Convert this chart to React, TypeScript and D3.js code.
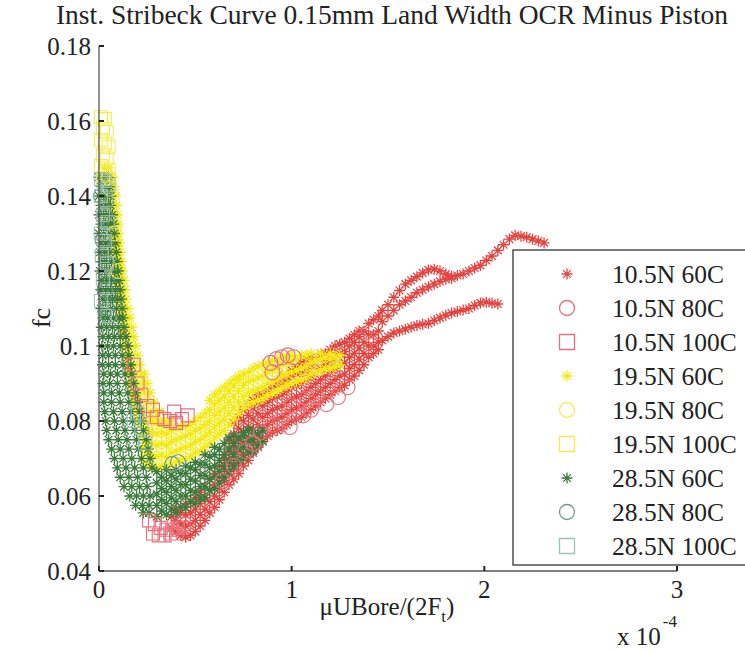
import React from "react";
import * as d3 from "d3";

// ---------- text ----------
const TITLE = "Inst. Stribeck Curve 0.15mm Land Width OCR Minus Piston";
const X_TICKS = [0, 1, 2, 3];
const Y_TICKS = [0.04, 0.06, 0.08, 0.1, 0.12, 0.14, 0.16, 0.18];
const Y_TICK_LABELS = ["0.04", "0.06", "0.08", "0.1", "0.12", "0.14", "0.16", "0.18"];
const SERIES_NAMES = [
  "10.5N 60C", "10.5N 80C", "10.5N 100C",
  "19.5N 60C", "19.5N 80C", "19.5N 100C",
  "28.5N 60C", "28.5N 80C", "28.5N 100C",
];

// ---------- data (x in units of 1e-4, y = fc) ----------
// rows: [fc, [x...]] ; cols: [x, [fc...]]
const G60_ROWS: [number, number[]][] = [
  [0.145, [0.0, 0.025, 0.05]],
  [0.1425, [0.01, 0.035, 0.055]],
  [0.14, [0.0, 0.025, 0.05, 0.06]],
  [0.1375, [0.01, 0.035, 0.06]],
  [0.135, [0.0, 0.025, 0.05, 0.07]],
  [0.1325, [0.01, 0.035, 0.06, 0.075]],
  [0.13, [0.0, 0.025, 0.05, 0.08]],
  [0.1275, [0.01, 0.035, 0.06, 0.085]],
  [0.125, [0.005, 0.03, 0.055, 0.09]],
  [0.1225, [0.015, 0.04, 0.065, 0.095]],
  [0.12, [0.005, 0.03, 0.055, 0.08, 0.1]],
  [0.1175, [0.015, 0.04, 0.065, 0.09, 0.105]],
  [0.115, [0.01, 0.035, 0.06, 0.085, 0.11]],
  [0.1125, [0.02, 0.045, 0.07, 0.095, 0.115]],
  [0.11, [0.01, 0.035, 0.06, 0.09, 0.12]],
  [0.1075, [0.02, 0.045, 0.075, 0.105, 0.125]],
  [0.105, [0.012, 0.04, 0.07, 0.1, 0.13]],
  [0.1025, [0.02, 0.05, 0.08, 0.11, 0.14]],
  [0.1, [0.015, 0.045, 0.075, 0.11, 0.15]],
  [0.0975, [0.02, 0.05, 0.085, 0.12, 0.155]],
  [0.095, [0.018, 0.05, 0.085, 0.125, 0.165]],
  [0.0925, [0.025, 0.06, 0.095, 0.135, 0.17]],
  [0.09, [0.02, 0.055, 0.095, 0.14, 0.18]],
  [0.0875, [0.025, 0.065, 0.105, 0.15, 0.19]],
  [0.085, [0.025, 0.065, 0.11, 0.155, 0.2]],
  [0.0825, [0.03, 0.075, 0.12, 0.165, 0.21]],
  [0.08, [0.035, 0.08, 0.125, 0.175, 0.22]],
  [0.0775, [0.04, 0.09, 0.135, 0.185, 0.23]],
  [0.075, [0.05, 0.1, 0.145, 0.195, 0.245]],
  [0.0725, [0.065, 0.11, 0.155, 0.205, 0.255]],
  [0.07, [0.08, 0.125, 0.17, 0.22, 0.265]],
  [0.0675, [0.095, 0.14, 0.185, 0.23, 0.275]],
  [0.065, [0.11, 0.155, 0.2, 0.245]],
  [0.0625, [0.13, 0.17, 0.21, 0.25]],
  [0.06, [0.16, 0.195, 0.23, 0.265]],
  [0.0575, [0.19, 0.225, 0.26]],
  [0.0555, [0.23, 0.26]],
];
const G60_COLS: [number, number[]][] = [
  [0.3, [0.0545, 0.0575, 0.0605, 0.0635, 0.0665]],
  [0.325, [0.056, 0.059, 0.062, 0.065]],
  [0.35, [0.055, 0.058, 0.061, 0.064, 0.067]],
  [0.375, [0.0565, 0.0595, 0.0625, 0.0655]],
  [0.4, [0.0555, 0.0585, 0.0615, 0.0645, 0.067]],
  [0.425, [0.057, 0.06, 0.063, 0.066]],
  [0.45, [0.057, 0.06, 0.063, 0.066, 0.068]],
  [0.475, [0.0585, 0.0615, 0.0645, 0.0675]],
  [0.5, [0.058, 0.061, 0.064, 0.067, 0.069]],
  [0.525, [0.0595, 0.0625, 0.0655, 0.0685]],
  [0.55, [0.0595, 0.0625, 0.0655, 0.0685, 0.071]],
  [0.575, [0.0615, 0.0645, 0.0675, 0.0705]],
  [0.6, [0.062, 0.065, 0.068, 0.071, 0.073]],
  [0.625, [0.0635, 0.0665, 0.0695, 0.0725]],
  [0.65, [0.065, 0.068, 0.071, 0.074]],
  [0.675, [0.0665, 0.0695, 0.0725, 0.0755]],
  [0.7, [0.068, 0.071, 0.074, 0.076]],
  [0.725, [0.0695, 0.0725, 0.0755]],
  [0.75, [0.07, 0.073, 0.076, 0.077]],
  [0.775, [0.0715, 0.0745, 0.0775]],
  [0.8, [0.072, 0.075, 0.0775]],
  [0.825, [0.0735, 0.0765]],
  [0.85, [0.0745, 0.0775]],
];

const Y60_ROWS: [number, number[]][] = [
  [0.1475, [0.03, 0.05]],
  [0.145, [0.04, 0.06, 0.07]],
  [0.1425, [0.045, 0.065, 0.075]],
  [0.14, [0.05, 0.07, 0.085]],
  [0.1375, [0.055, 0.075, 0.09]],
  [0.135, [0.06, 0.08, 0.095]],
  [0.1325, [0.065, 0.085, 0.1]],
  [0.13, [0.07, 0.09, 0.1]],
  [0.1275, [0.075, 0.095, 0.105]],
  [0.125, [0.08, 0.1, 0.11]],
  [0.1225, [0.085, 0.105, 0.115]],
  [0.12, [0.09, 0.11, 0.12]],
  [0.1175, [0.095, 0.115, 0.13]],
  [0.115, [0.1, 0.12, 0.135]],
  [0.1125, [0.105, 0.125, 0.14]],
  [0.11, [0.11, 0.13, 0.15]],
  [0.1075, [0.115, 0.14, 0.16]],
  [0.105, [0.12, 0.145, 0.17]],
  [0.1025, [0.125, 0.155, 0.18]],
  [0.1, [0.13, 0.16, 0.19]],
  [0.0975, [0.14, 0.17, 0.2]],
  [0.095, [0.145, 0.18, 0.21]],
  [0.0925, [0.155, 0.19, 0.22, 0.235]],
  [0.09, [0.16, 0.195, 0.225, 0.25]],
  [0.0875, [0.17, 0.205, 0.235, 0.265]],
  [0.085, [0.18, 0.215, 0.25, 0.285]],
  [0.0825, [0.19, 0.225, 0.26, 0.295, 0.315]],
  [0.08, [0.2, 0.235, 0.27, 0.305, 0.34, 0.37]],
];
const Y60_COLS: [number, number[]][] = [
  [0.225, [0.07, 0.073, 0.076, 0.079]],
  [0.25, [0.0685, 0.0715, 0.0745, 0.0775]],
  [0.275, [0.068, 0.071, 0.074, 0.077, 0.08]],
  [0.3, [0.0675, 0.0705, 0.0735, 0.0765, 0.0795]],
  [0.325, [0.068, 0.071, 0.074, 0.077, 0.079]],
  [0.35, [0.068, 0.0705, 0.0735, 0.0765, 0.079]],
  [0.375, [0.0685, 0.0715, 0.0745, 0.0775]],
  [0.4, [0.069, 0.072, 0.075, 0.078]],
  [0.425, [0.0695, 0.0725, 0.0755, 0.0785]],
  [0.45, [0.07, 0.073, 0.076, 0.0785]],
  [0.475, [0.0705, 0.0735, 0.0765, 0.079]],
  [0.5, [0.0715, 0.0745, 0.0775, 0.08]],
  [0.525, [0.072, 0.075, 0.078, 0.081]],
  [0.55, [0.073, 0.076, 0.079, 0.082]],
  [0.575, [0.074, 0.077, 0.08, 0.083, 0.0855]],
  [0.6, [0.0755, 0.0785, 0.0815, 0.0845, 0.087]],
  [0.625, [0.0765, 0.0795, 0.0825, 0.0855, 0.088]],
  [0.65, [0.0775, 0.0805, 0.0835, 0.0865, 0.089]],
  [0.675, [0.079, 0.082, 0.085, 0.088, 0.09]],
  [0.7, [0.0805, 0.0835, 0.0865, 0.0895, 0.091]],
  [0.725, [0.082, 0.085, 0.088, 0.091, 0.092]],
  [0.75, [0.0835, 0.0865, 0.0895, 0.0925]],
  [0.775, [0.0845, 0.0875, 0.0905, 0.093]],
  [0.8, [0.085, 0.088, 0.091, 0.094]],
  [0.825, [0.0855, 0.0885, 0.0915, 0.0945]],
  [0.85, [0.086, 0.089, 0.092, 0.095]],
  [0.875, [0.087, 0.09, 0.093, 0.0955]],
  [0.9, [0.0875, 0.0905, 0.0935, 0.096]],
  [0.925, [0.088, 0.091, 0.094, 0.0965]],
  [0.95, [0.089, 0.092, 0.095, 0.097]],
  [0.975, [0.0895, 0.0925, 0.0955, 0.097]],
  [1.0, [0.09, 0.093, 0.096, 0.0975]],
  [1.025, [0.0905, 0.0935, 0.0965]],
  [1.05, [0.091, 0.094, 0.0975]],
  [1.075, [0.0915, 0.0945, 0.0975]],
  [1.1, [0.0925, 0.0955, 0.098]],
  [1.125, [0.093, 0.096]],
  [1.15, [0.0935, 0.0965, 0.098]],
  [1.175, [0.094, 0.097]],
  [1.2, [0.094, 0.0965, 0.098]],
  [1.225, [0.0945, 0.097]],
  [1.25, [0.095, 0.0975]],
];

const R60_DESCENT: [number, number][] = [
  [0.08, 0.125], [0.09, 0.12], [0.1, 0.115], [0.12, 0.108], [0.13, 0.104],
  [0.14, 0.1], [0.15, 0.097], [0.16, 0.094], [0.17, 0.09], [0.19, 0.086],
  [0.21, 0.083], [0.23, 0.08], [0.26, 0.077],
];
const R60_COLS: [number, number[]][] = [
  [0.375, [0.0515, 0.0545]],
  [0.4, [0.0505, 0.0535, 0.0565]],
  [0.425, [0.0495, 0.0525, 0.0555]],
  [0.45, [0.049, 0.052, 0.055, 0.058]],
  [0.475, [0.0495, 0.0525, 0.0555, 0.0585]],
  [0.5, [0.0505, 0.0535, 0.0565, 0.0595]],
  [0.525, [0.052, 0.055, 0.058, 0.061]],
  [0.55, [0.0535, 0.0565, 0.0595, 0.0625]],
  [0.575, [0.0555, 0.0585, 0.0615, 0.0645]],
  [0.6, [0.057, 0.06, 0.063, 0.066]],
  [0.625, [0.059, 0.062, 0.065, 0.068]],
  [0.65, [0.061, 0.064, 0.067, 0.07]],
  [0.675, [0.063, 0.066, 0.069, 0.072, 0.075]],
  [0.7, [0.0645, 0.0675, 0.0705, 0.0735, 0.0765, 0.0795]],
  [0.725, [0.066, 0.069, 0.072, 0.075, 0.078, 0.081]],
  [0.75, [0.068, 0.071, 0.074, 0.077, 0.08, 0.083]],
  [0.775, [0.0695, 0.0725, 0.0755, 0.0785, 0.0815, 0.0845]],
  [0.8, [0.0715, 0.0745, 0.0775, 0.0805, 0.0835, 0.0855]],
  [0.825, [0.073, 0.076, 0.079, 0.082, 0.085, 0.087]],
  [0.85, [0.075, 0.078, 0.081, 0.084, 0.087]],
  [0.875, [0.076, 0.079, 0.082, 0.085, 0.088]],
  [0.9, [0.077, 0.08, 0.083, 0.086, 0.089]],
  [0.925, [0.0775, 0.0805, 0.0835, 0.0865, 0.09]],
  [0.95, [0.078, 0.081, 0.084, 0.087, 0.09, 0.092]],
  [0.975, [0.079, 0.082, 0.085, 0.088, 0.091]],
  [1.0, [0.08, 0.083, 0.086, 0.089, 0.092, 0.0935]],
  [1.025, [0.0805, 0.0835, 0.0865, 0.0895, 0.0925, 0.0945]],
  [1.05, [0.081, 0.084, 0.087, 0.09, 0.093, 0.0955]],
  [1.075, [0.082, 0.085, 0.088, 0.091, 0.094, 0.0965]],
  [1.1, [0.083, 0.086, 0.089, 0.092, 0.095, 0.097]],
  [1.125, [0.084, 0.087, 0.09, 0.093, 0.096]],
  [1.15, [0.085, 0.088, 0.091, 0.094, 0.097, 0.098]],
  [1.175, [0.086, 0.089, 0.092, 0.095, 0.098]],
  [1.2, [0.087, 0.09, 0.093, 0.096, 0.099]],
  [1.225, [0.088, 0.091, 0.094, 0.097, 0.1]],
  [1.25, [0.089, 0.092, 0.095, 0.098, 0.1005]],
  [1.275, [0.0895, 0.0925, 0.0955, 0.0985, 0.101]],
  [1.3, [0.091, 0.094, 0.097, 0.1, 0.102]],
  [1.325, [0.092, 0.095, 0.098, 0.101, 0.103]],
  [1.35, [0.0935, 0.0965, 0.0995, 0.1025, 0.104]],
  [1.375, [0.095, 0.098, 0.101, 0.104]],
  [1.4, [0.097, 0.1, 0.103, 0.106]],
  [1.425, [0.098, 0.1, 0.103, 0.107]],
  [1.45, [0.099, 0.101, 0.104, 0.108]],
];
const R60_UPPER: [number, number][] = [
  [1.47, 0.1095], [1.5, 0.111], [1.53, 0.113], [1.56, 0.1148], [1.59, 0.1165],
  [1.62, 0.1175], [1.65, 0.1185], [1.68, 0.1195], [1.71, 0.1203], [1.74, 0.1205],
  [1.77, 0.12], [1.8, 0.1192], [1.83, 0.1186], [1.86, 0.1188], [1.89, 0.1192],
  [1.92, 0.12], [1.95, 0.1208], [1.98, 0.1215], [2.01, 0.1228], [2.04, 0.124],
  [2.07, 0.1255], [2.1, 0.127], [2.13, 0.1285], [2.16, 0.1295], [2.19, 0.1293],
  [2.22, 0.129], [2.25, 0.1285], [2.28, 0.128], [2.31, 0.1275],
];
const R60_MIDDLE: [number, number][] = [
  [1.47, 0.1065], [1.5, 0.108], [1.53, 0.1095], [1.56, 0.111], [1.59, 0.112],
  [1.62, 0.113], [1.65, 0.1142], [1.68, 0.115], [1.71, 0.1158], [1.74, 0.1165],
  [1.77, 0.1172], [1.8, 0.1178], [1.83, 0.118],
];
const R60_LOWER: [number, number][] = [
  [1.47, 0.1015], [1.5, 0.1025], [1.53, 0.1035], [1.56, 0.104], [1.59, 0.1045],
  [1.62, 0.105], [1.65, 0.1055], [1.68, 0.1058], [1.71, 0.106], [1.74, 0.1068],
  [1.77, 0.1075], [1.8, 0.1082], [1.83, 0.1088], [1.86, 0.1092], [1.89, 0.1096],
  [1.92, 0.11], [1.95, 0.1108], [1.98, 0.1115], [2.01, 0.1117], [2.04, 0.1114],
  [2.07, 0.1112],
];

const R80: [number, number][] = [
  [0.89, 0.0955], [0.92, 0.0965], [0.95, 0.097], [0.98, 0.0975], [1.01, 0.097], [0.9, 0.093],
  [0.9, 0.079], [0.94, 0.08], [0.99, 0.0784], [1.03, 0.083], [1.06, 0.0815], [1.1, 0.083],
  [1.13, 0.0864], [1.18, 0.0845], [1.24, 0.0864], [1.29, 0.089], [1.0, 0.084], [1.08, 0.086],
  [0.84, 0.077], [0.8, 0.074], [0.76, 0.072], [0.7, 0.068], [0.64, 0.064],
];
const R100: [number, number][] = [
  [0.26, 0.0535], [0.29, 0.0525], [0.32, 0.0515], [0.35, 0.051], [0.38, 0.051],
  [0.41, 0.0515], [0.44, 0.0525], [0.28, 0.05], [0.31, 0.0495], [0.34, 0.0495],
  [0.37, 0.05], [0.4, 0.05],
  [0.34, 0.0805], [0.37, 0.08], [0.4, 0.0795], [0.43, 0.0805], [0.46, 0.0815], [0.39, 0.0825],
  [0.18, 0.095], [0.2, 0.09], [0.22, 0.087], [0.25, 0.084], [0.28, 0.083], [0.3, 0.081],
];
const Y80: [number, number][] = [
  [0.03, 0.146], [0.05, 0.145], [0.06, 0.142], [0.08, 0.13], [0.1, 0.12],
];
const Y100: [number, number][] = [
  [0.01, 0.161], [0.03, 0.1605], [0.02, 0.158], [0.04, 0.157], [0.01, 0.155],
  [0.03, 0.154], [0.05, 0.153], [0.02, 0.151], [0.04, 0.15], [0.01, 0.148],
  [0.03, 0.147], [0.05, 0.147], [0.02, 0.1445],
];
const G80: [number, number][] = [
  [0.01, 0.14], [0.03, 0.135], [0.02, 0.128], [0.04, 0.122], [0.03, 0.115],
  [0.05, 0.108], [0.38, 0.0685], [0.41, 0.069],
];
const G100: [number, number][] = [
  [0.01, 0.1445], [0.03, 0.144], [0.05, 0.143], [0.01, 0.14], [0.035, 0.139],
  [0.02, 0.135], [0.045, 0.133], [0.01, 0.13], [0.03, 0.128], [0.015, 0.124],
  [0.04, 0.122], [0.02, 0.118], [0.01, 0.112], [0.03, 0.108],
  [0.2, 0.082], [0.22, 0.078], [0.18, 0.08], [0.24, 0.074],
];

// ---------- helpers (reshape only) ----------
const fromRows = (rows: [number, number[]][]): [number, number][] =>
  rows.flatMap(([y, xs]) => xs.map((x) => [x, y] as [number, number]));
const fromCols = (cols: [number, number[]][]): [number, number][] =>
  cols.flatMap(([x, ys]) => ys.map((y) => [x, y] as [number, number]));

const W = 745, H = 652;
const xScale = d3.scaleLinear().domain([0, 3]).range([99, 677]);
const yScale = d3.scaleLinear().domain([0.04, 0.18]).range([571, 46]);

const FONT = "'Liberation Serif', 'Times New Roman', Times, serif";

type Shape = "star" | "circle" | "square";
interface Series { name: string; color: string; shape: Shape; size: number; pts: [number, number][] }

const SERIES: Series[] = [
  { name: SERIES_NAMES[0], color: "#e4433f", shape: "star", size: 5.5,
    pts: [...R60_DESCENT, ...fromCols(R60_COLS), ...R60_UPPER, ...R60_MIDDLE, ...R60_LOWER] },
  { name: SERIES_NAMES[1], color: "#e8707c", shape: "circle", size: 7.5, pts: R80 },
  { name: SERIES_NAMES[2], color: "#e8707c", shape: "square", size: 6.5, pts: R100 },
  { name: SERIES_NAMES[3], color: "#f3ea12", shape: "star", size: 5.5,
    pts: [...fromRows(Y60_ROWS), ...fromCols(Y60_COLS)] },
  { name: SERIES_NAMES[4], color: "#f2ec60", shape: "circle", size: 7.5, pts: Y80 },
  { name: SERIES_NAMES[5], color: "#f2ec50", shape: "square", size: 6.5, pts: Y100 },
  { name: SERIES_NAMES[6], color: "#3c7a3c", shape: "star", size: 5.5,
    pts: [...fromRows(G60_ROWS), ...fromCols(G60_COLS)] },
  { name: SERIES_NAMES[7], color: "#6f9e86", shape: "circle", size: 7.5, pts: G80 },
  { name: SERIES_NAMES[8], color: "#9fc2b4", shape: "square", size: 6.5, pts: G100 },
];

function markerPath(shape: Shape, r: number, cx: number, cy: number): string {
  if (shape === "star") {
    const d = r * 0.7071;
    return `M${cx - r},${cy}H${cx + r}M${cx},${cy - r}V${cy + r}` +
      `M${cx - d},${cy - d}L${cx + d},${cy + d}M${cx - d},${cy + d}L${cx + d},${cy - d}`;
  }
  if (shape === "circle") {
    const p = d3.path();
    p.moveTo(cx + r, cy);
    p.arc(cx, cy, r, 0, Math.PI * 2);
    return p.toString();
  }
  return `M${cx - r},${cy - r}H${cx + r}V${cy + r}H${cx - r}Z`;
}

function seriesPath(s: Series): string {
  return s.pts.map(([x, y]) => markerPath(s.shape, s.size, xScale(x), yScale(y))).join("");
}

export default function App() {
  const drawOrder = [
    ...SERIES.filter((s) => s.shape === "star"),
    ...SERIES.filter((s) => s.shape !== "star"),
  ];
  const legX = 513, legY = 250, legH = 315;
  const rowY0 = 274, rowStep = 34;
  return (
    <svg width={W} height={H} style={{ position: "absolute", left: 0, top: 0, background: "#fff" }}
      fontFamily={FONT}>
      <rect x={0} y={0} width={W} height={H} fill="#fff" />
      <text x={392} y={24} textAnchor="middle" fontSize={27.5} fill="#222" fontFamily={FONT}>{TITLE}</text>

      {/* data */}
      <g fill="none">
        {drawOrder.map((s) => (
          <path key={s.name} d={seriesPath(s)} stroke={s.color}
            strokeWidth={s.shape === "star" ? 1.3 : 1.1} />
        ))}
      </g>

      {/* axes */}
      <g stroke="#555" strokeWidth={1.3} fill="none">
        <line x1={xScale(0)} x2={xScale(0)} y1={yScale(0.18)} y2={yScale(0.04)} />
        <line x1={xScale(0)} x2={xScale(3)} y1={yScale(0.04)} y2={yScale(0.04)} />
        {Y_TICKS.map((t) => (
          <line key={"yt" + t} x1={xScale(0)} x2={xScale(0) + 5} y1={yScale(t)} y2={yScale(t)} stroke="#222" strokeWidth={2} />
        ))}
        {X_TICKS.map((t) => (
          <line key={"xt" + t} x1={xScale(t)} x2={xScale(t)} y1={yScale(0.04)} y2={yScale(0.04) - 5} stroke="#222" strokeWidth={2} />
        ))}
      </g>
      <g fontSize={25} fill="#222" fontFamily={FONT}>
        {Y_TICKS.map((t, i) => (
          <text key={"yl" + t} x={xScale(0) - 8} y={yScale(t)} textAnchor="end" dominantBaseline="central">
            {Y_TICK_LABELS[i]}
          </text>
        ))}
        {X_TICKS.map((t) => (
          <text key={"xl" + t} x={xScale(t)} y={598} textAnchor="middle">{t}</text>
        ))}
      </g>
      <text transform={`translate(41,318) rotate(-90)`} textAnchor="middle" dominantBaseline="central"
        fontSize={26} fill="#222" fontFamily={FONT}>fc</text>
      <text x={387} y={615} textAnchor="middle" fontSize={25} fill="#222" fontFamily={FONT}>
        μUBore/(2F<tspan fontSize={17} dy={7}>t</tspan><tspan dy={-7}>)</tspan>
      </text>
      <text x={617} y={645} fontSize={25} fill="#222" fontFamily={FONT}>
        x 10<tspan fontSize={17} dx={2} dy={-18}>-4</tspan>
      </text>

      {/* legend */}
      <rect x={legX} y={legY} width={260} height={legH} fill="#fff" stroke="#333" strokeWidth={1.3} />
      {SERIES.map((s, i) => {
        const cy = rowY0 + i * rowStep;
        return (
          <g key={"leg" + s.name}>
            <path d={markerPath(s.shape, s.shape === "star" ? 5.5 : 7.5, 567, cy)} stroke={s.color}
              strokeWidth={1.3} fill="none" />
            <text x={612} y={cy} dominantBaseline="central" fontSize={25.5} fill="#222" fontFamily={FONT}>{s.name}</text>
          </g>
        );
      })}
    </svg>
  );
}
